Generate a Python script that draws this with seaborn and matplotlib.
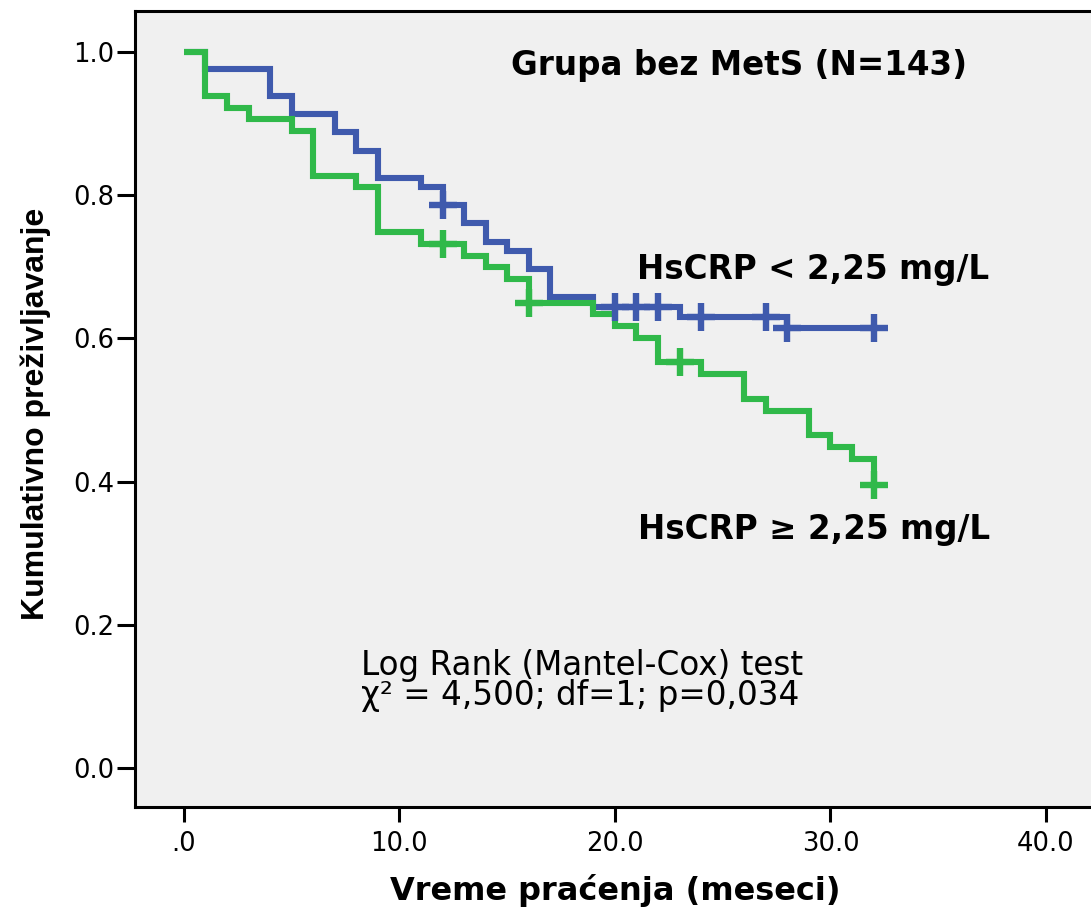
import matplotlib
matplotlib.use("Agg")
import matplotlib.pyplot as plt
import seaborn as sns
import pandas as pd

# Kaplan-Meier estimates, group without metabolic syndrome
low_times = [0, 1, 4, 5, 7, 8, 9, 11, 12, 13, 14, 15, 16, 17, 19, 23, 28, 32]
low_surv = [1.0, 0.976, 0.939, 0.913, 0.888, 0.862, 0.824, 0.811, 0.786, 0.761,
            0.735, 0.722, 0.697, 0.658, 0.644, 0.630, 0.615, 0.615]
low_cens_t = [12, 20, 21, 22, 24, 27, 28, 32]
low_cens_s = [0.786, 0.644, 0.644, 0.644, 0.630, 0.630, 0.615, 0.615]

high_times = [0, 1, 2, 3, 5, 6, 8, 9, 11, 13, 14, 15, 16, 19, 20, 21, 22, 24,
              26, 27, 29, 30, 31, 32]
high_surv = [1.0, 0.938, 0.922, 0.906, 0.890, 0.827, 0.811, 0.748, 0.732, 0.715,
             0.700, 0.683, 0.650, 0.634, 0.617, 0.600, 0.567, 0.550, 0.516,
             0.499, 0.465, 0.448, 0.431, 0.395]
high_cens_t = [12, 16, 23, 32]
high_cens_s = [0.732, 0.650, 0.567, 0.395]

x_ticks = [0, 10, 20, 30, 40]
x_tick_labels = [".0", "10.0", "20.0", "30.0", "40.0"]
y_ticks = [0.0, 0.2, 0.4, 0.6, 0.8, 1.0]
y_tick_labels = ["0.0", "0.2", "0.4", "0.6", "0.8", "1.0"]

BLUE = "#3F5AAD"
GREEN = "#30B94A"

sns.set_theme(style="ticks")
plt.rcParams["font.family"] = ["DejaVu Sans"]

fig = plt.figure(figsize=(10.91, 9.09), dpi=100)
fig.patch.set_facecolor("white")
ax = fig.add_axes([135 / 1091, 102 / 909, 956 / 1091, 796 / 909])
ax.set_facecolor("#F0F0F0")

low_df = pd.DataFrame({"t": low_times, "s": low_surv})
high_df = pd.DataFrame({"t": high_times, "s": high_surv})

line_kw = dict(drawstyle="steps-post", linewidth=4.4, estimator=None,
               solid_capstyle="butt", solid_joinstyle="miter")
sns.lineplot(data=low_df, x="t", y="s", color=BLUE, ax=ax, zorder=3, **line_kw)
sns.lineplot(data=high_df, x="t", y="s", color=GREEN, ax=ax, zorder=4, **line_kw)

sns.scatterplot(x=low_cens_t, y=low_cens_s, marker="+", s=380, linewidth=4.6,
                color=BLUE, ax=ax, zorder=5)
sns.scatterplot(x=high_cens_t, y=high_cens_s, marker="+", s=380, linewidth=4.6,
                color=GREEN, ax=ax, zorder=6)

ax.set_xlim(-2.27, 42.09)
ax.set_ylim(-0.0545, 1.0573)
ax.set_xticks(x_ticks)
ax.set_xticklabels(x_tick_labels)
ax.set_yticks(y_ticks)
ax.set_yticklabels(y_tick_labels)
ax.set_xlabel("")
ax.set_ylabel("")

for side in ("left", "bottom", "top"):
    ax.spines[side].set_linewidth(2.2)
    ax.spines[side].set_color("black")
ax.spines["right"].set_visible(False)

ax.tick_params(axis="y", length=13, width=2.2, pad=2, labelsize=18.6,
               colors="black")
ax.tick_params(axis="x", length=10.5, width=2.2, pad=7, labelsize=18.6,
               colors="black")

bold = dict(fontweight="bold", fontsize=23.5, color="black")
ax.text(25.75, 0.968, "Grupa bez MetS (N=143)", ha="center", va="baseline", **bold)
ax.text(21.02, 0.6825, "HsCRP < 2,25 mg/L", ha="left", va="baseline", **bold)
ax.text(21.08, 0.3194, "HsCRP \u2265 2,25 mg/L", ha="left", va="baseline", **bold)

ax.text(18.47, 0.130, "Log Rank (Mantel-Cox) test", ha="center", va="baseline",
        fontsize=23.5, color="black")
ax.text(18.38, 0.088, "\u03c7\u00b2 = 4,500; df=1; p=0,034", ha="center",
        va="baseline", fontsize=23.5, color="black")

fig.text(615 / 1091, 1 - 900 / 909, "Vreme pra\u0107enja (meseci)", ha="center",
         va="baseline", fontsize=23, fontweight="bold", color="black")
fig.text(36 / 1091, 1 - 414 / 909, "Kumulativno pre\u017eivljavanje", rotation=90,
         ha="center", va="center", fontsize=23, fontweight="bold",
         family=["Liberation Sans", "DejaVu Sans"], color="black")

fig.savefig("out.png", dpi=100, facecolor="white")
